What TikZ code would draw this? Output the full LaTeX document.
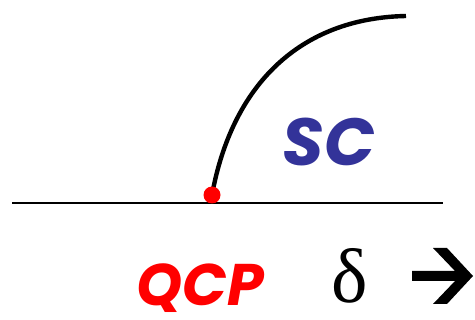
\documentclass[tikz,border=0pt]{standalone}
\usepackage{fontspec}
\setmainfont{Poppins}
\newfontfamily\serifgreek{Liberation Serif}
\definecolor{scblue}{HTML}{333399}
\definecolor{qcpred}{HTML}{FF0000}
\begin{document}
\begin{tikzpicture}[x=0.75pt,y=-0.75pt,
  axis/.style={line width=1.6pt},
  phase/.style={line width=3.3pt},
  lbl/.style={inner sep=0pt,anchor=center}]
\useasboundingbox (0,0) rectangle (475,320);
\coordinate (L) at (12,203);
\coordinate (R) at (443,203);
\draw[axis] (L) -- (R);
\coordinate (qcp) at (212,195);
\coordinate (top) at (406,16);
\draw[phase] (qcp) .. controls (232,85) and (300,18) .. (top);
\fill[qcpred] (qcp) circle (8.5);
\node[lbl,text=scblue,font=\fontsize{50}{50}\selectfont\bfseries\itshape] (sc) at (329,142) {SC};
\node[lbl,text=qcpred,font=\fontsize{44}{44}\selectfont\bfseries\itshape,text depth=0pt] (qcplbl) at (200,285) {QCP};
\node[lbl,font=\serifgreek\fontsize{58}{58}\selectfont] (delta) at (350,276) {δ};
\fill (412,271) -- (455,271) -- (433,248) -- (447,248) -- (473,276) -- (447,304) -- (433,304) -- (455,281) -- (412,281) -- cycle;
\end{tikzpicture}
\end{document}
